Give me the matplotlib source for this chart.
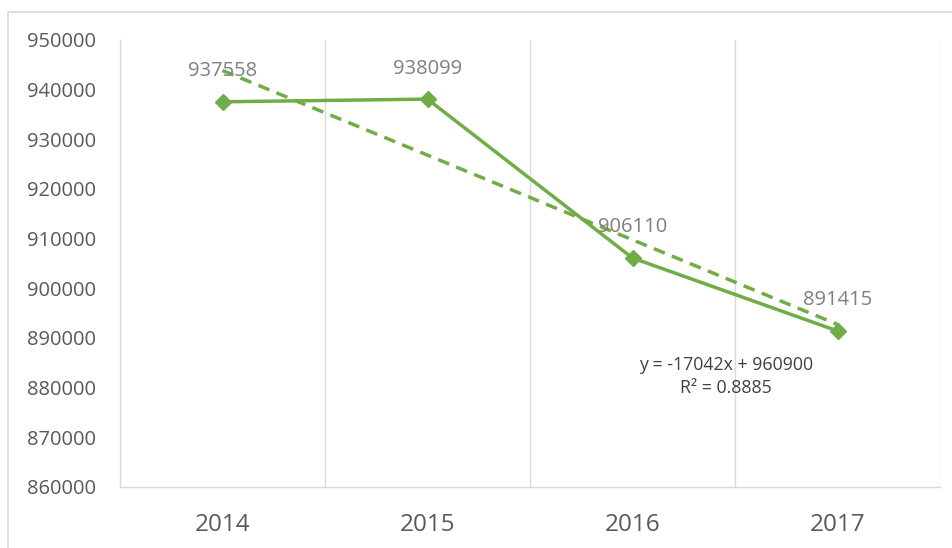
import matplotlib
matplotlib.use("Agg")
import matplotlib.pyplot as plt
import numpy as np
from matplotlib.patches import Rectangle

years = ["2014", "2015", "2016", "2017"]
values = [937558, 938099, 906110, 891415]
y_ticks = [860000, 870000, 880000, 890000, 900000, 910000, 920000, 930000, 940000, 950000]
eq_text = "y = -17042x + 960900"
r2_text = "R² = 0.8885"

green = "#70AD47"
grid_c = "#D9D9D9"

plt.rcParams['font.family'] = ['Open Sans', 'DejaVu Sans']

W, H = 952, 548
fig = plt.figure(figsize=(W / 100, H / 100), dpi=100)
ax = fig.add_axes([120 / W, 1 - 487 / H, (940 - 120) / W, (487 - 40) / H])

# outer chart border
fig.patches.append(Rectangle((8 / W, -0.1), 1.2, 1.1 - 12 / H, transform=fig.transFigure,
                             fill=False, edgecolor=grid_c, linewidth=1.2))

x = np.arange(len(years))
ax.plot(x, values, color=green, lw=2.5, marker='D', markersize=8.5, zorder=3)

# linear trendline (Excel-style, x = 1..n)
xf = x + 1
slope, intercept = np.polyfit(xf, values, 1)
ax.plot(x, slope * xf + intercept, color=green, lw=2.5, ls=(0, (3.4, 2.2)), zorder=2)

for xi, v in zip(x, values):
    ax.annotate(str(v), (xi, v), xytext=(0, 22), textcoords='offset points',
                ha='center', va='center', fontsize=14.5, color='#7F7F7F')

ax.text(2.456, 884570, eq_text, ha='center', va='center', fontsize=12.8, color='#404040')
ax.text(2.456, 879900, r2_text, ha='center', va='center', fontsize=12.8, color='#404040')

ax.set_xlim(-0.5, 3.5)
ax.set_ylim(860000, 950000)
ax.set_yticks(y_ticks)
ax.set_yticklabels([str(t) for t in y_ticks], fontsize=14.5, color='#595959')
ax.set_xticks(x)
ax.set_xticklabels(years, fontsize=17.5, color='#595959')
ax.tick_params(axis='both', length=0)
ax.tick_params(axis='y', pad=17)
ax.tick_params(axis='x', pad=19)

for gx in [0.5, 1.5, 2.5, 3.5]:
    ax.axvline(gx, color=grid_c, lw=1.0, zorder=1)

for s in ['top', 'right']:
    ax.spines[s].set_visible(False)
for s in ['left', 'bottom']:
    ax.spines[s].set_color(grid_c)
    ax.spines[s].set_linewidth(1.0)

fig.savefig("out.png", dpi=100)
